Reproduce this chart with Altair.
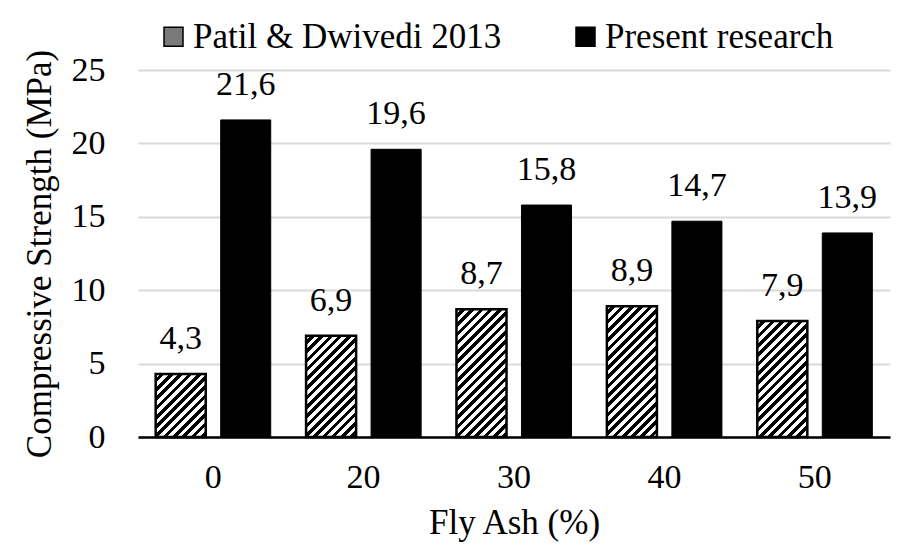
import altair as alt
import pandas as pd

# ---- data ----
fly_ash = ["0", "20", "30", "40", "50"]
patil = [4.3, 6.9, 8.7, 8.9, 7.9]
present = [21.6, 19.6, 15.8, 14.7, 13.9]
series = ["Patil & Dwivedi 2013", "Present research"]

rows = []
for i, fa in enumerate(fly_ash):
    for s, vals in zip(series, [patil, present]):
        rows.append({"fa": fa, "series": s, "v": vals[i],
                     "label": f"{vals[i]:.1f}".replace(".", ",")})
df = pd.DataFrame(rows)

# ---- layout ----
W, H = 752, 367
YMAX = 25
X_PI, X_PO = 0.235, 0.1175
OFF_PI = 0.23
FONT = "Liberation Serif, serif"

step = W / (len(fly_ash) - X_PI + 2 * X_PO)
band = step * (1 - X_PI)
s2 = band / (2 - OFF_PI)
bar_w = s2 * (1 - OFF_PI)


def hatch(w, h, period=9.3):
    """Linear gradient that draws '/' stripes at 45 degrees in pixel space."""
    k = (w + h) / (w * w + h * h)
    a, b = w * k, h * k
    n = (w + h) / period
    stops = []
    j = 0
    while j / n < 1:
        o0 = j / n
        o1 = min((j + 0.5) / n, 1)
        o2 = min((j + 1) / n, 1)
        stops += [alt.GradientStop(offset=o0, color="white"),
                  alt.GradientStop(offset=o1, color="white"),
                  alt.GradientStop(offset=o1, color="black"),
                  alt.GradientStop(offset=o2, color="black")]
        j += 1
    return alt.LinearGradient(gradient="linear", stops=stops,
                              x1=0, y1=0, x2=a, y2=b)


x_enc = alt.X("fa:N", sort=fly_ash,
              scale=alt.Scale(domain=fly_ash, paddingInner=X_PI, paddingOuter=X_PO),
              axis=alt.Axis(title="Fly Ash (%)", labelAngle=0, ticks=False,
                            domainColor="black", domainWidth=2.5, grid=False,
                            labelFont=FONT, titleFont=FONT,
                            labelFontSize=34, labelPadding=23, labelColor="black",
                            titleFontSize=35, titleFontWeight="normal",
                            titleColor="black", titlePadding=11))
xo_enc = alt.XOffset("series:N", sort=series,
                     scale=alt.Scale(domain=series, paddingInner=OFF_PI, paddingOuter=0))
y_enc = alt.Y("v:Q", scale=alt.Scale(domain=[0, YMAX], nice=False),
              axis=alt.Axis(title="Compressive Strength (MPa)", values=[0, 5, 10, 15, 20, 25],
                            domain=False, ticks=False, gridColor="#d9d9d9", gridWidth=2,
                            labelFont=FONT, titleFont=FONT,
                            labelFontSize=34, labelPadding=33, labelColor="black",
                            titleFontSize=35, titleFontWeight="normal",
                            titleColor="black", titlePadding=14))

base = alt.Chart(df)

present_bars = base.transform_filter(alt.datum.series == series[1]).mark_bar(
    stroke="black", strokeWidth=1).encode(
    x=x_enc, xOffset=xo_enc, y=y_enc,
    color=alt.Color("series:N", sort=series,
                    scale=alt.Scale(domain=series, range=["#7a7a7a", "black"]),
                    legend=alt.Legend(title=None, orient="none", direction="horizontal",
                                      legendX=18, legendY=-51, symbolType="square",
                                      symbolSize=361, symbolStrokeColor="black",
                                      symbolStrokeWidth=1.5, labelFont=FONT,
                                      labelFontSize=35, labelColor="black",
                                      labelLimit=600, labelOffset=2,
                                      columnPadding=66)))

layers = [present_bars]
for i, fa in enumerate(fly_ash):
    h = patil[i] * H / YMAX
    layers.append(
        base.transform_filter((alt.datum.series == series[0]) & (alt.datum.fa == fa))
        .mark_bar(fill=hatch(bar_w, h), stroke="black", strokeWidth=2.5)
        .encode(x=x_enc, xOffset=xo_enc, y=y_enc)
    )

labels = base.mark_text(font=FONT, fontSize=34, color="black", baseline="alphabetic",
                        dy=-25).encode(x=x_enc, xOffset=xo_enc, y=y_enc, text="label:N")
layers.append(labels)

chart = alt.layer(*layers).properties(
    width=W, height=H,
    autosize=alt.AutoSizeParams(type="none"),
    padding={"left": 130, "top": 62, "right": 10, "bottom": 106},
).configure_view(stroke=None)

chart.save("out.html", embed_options={"renderer": "svg", "actions": False})
